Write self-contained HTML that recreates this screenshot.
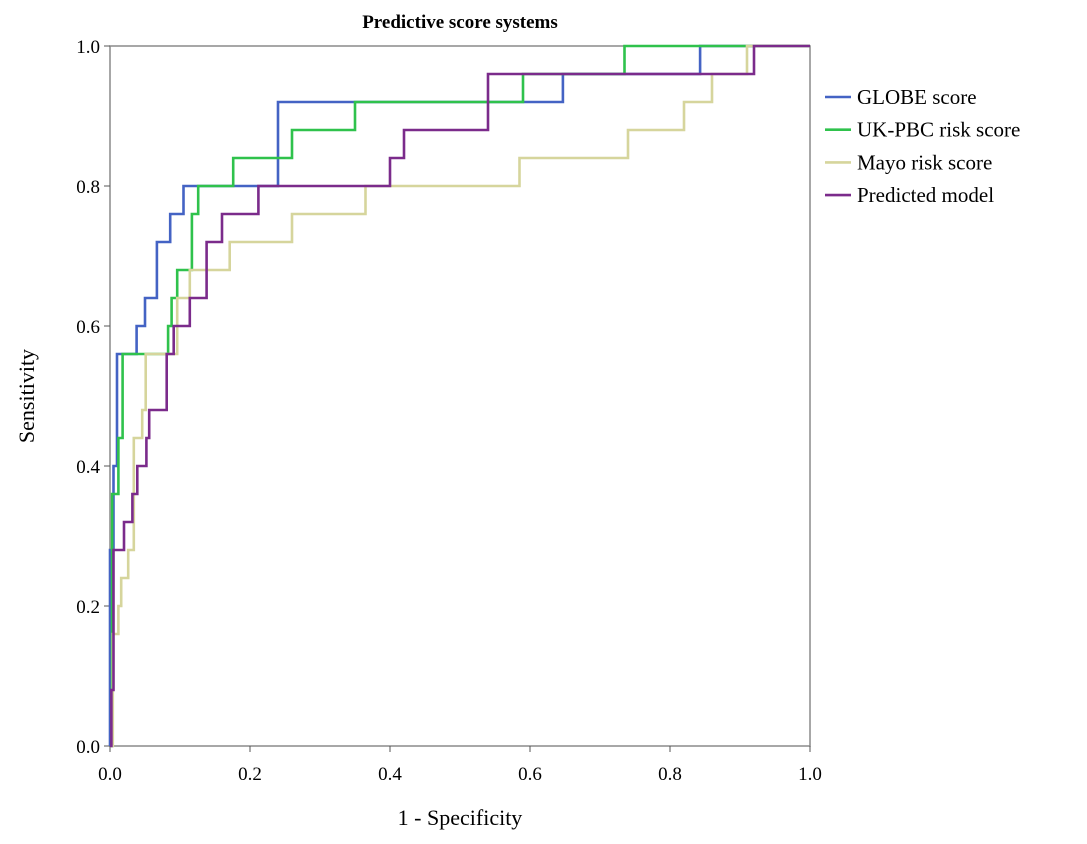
<!DOCTYPE html>
<html><head><meta charset="utf-8"><style>
body{margin:0;background:#fff;}
svg{display:block;font-family:"Liberation Serif",serif;}
</style></head><body>
<svg id="chart" width="1087" height="844" viewBox="0 0 1087 844">
<text x="460" y="28" text-anchor="middle" font-size="19" font-weight="bold">Predictive score systems</text>
<rect x="110" y="46" width="700" height="700" fill="none" stroke="#8a8a8a" stroke-width="1.5"/>
<g id="ticks"></g>
<g id="series"></g>
<text x="460" y="825" text-anchor="middle" font-size="22">1 - Specificity</text>
<text transform="translate(34,396) rotate(-90)" text-anchor="middle" font-size="22">Sensitivity</text>
<g id="legend"></g>
</svg>
<script>
const tickVals=[0,0.2,0.4,0.6,0.8,1.0];
const tickLabels=["0.0","0.2","0.4","0.6","0.8","1.0"];
const seriesNames=["GLOBE score","UK-PBC risk score","Mayo risk score","Predicted model"];
const seriesColors=["#4463c4","#2fc24c","#d6d59c","#7b2b8b"];
const globeFpr=[0,0,0.005,0.01,0.021,0.038,0.05,0.067,0.086,0.105,0.24,0.647,0.843,1];
const globeTpr=[0,0.28,0.4,0.56,0.56,0.6,0.64,0.72,0.76,0.8,0.92,0.96,1,1];
const ukFpr=[0,0.003,0.012,0.018,0.083,0.088,0.096,0.117,0.126,0.176,0.26,0.35,0.59,0.735,1];
const ukTpr=[0,0.36,0.44,0.56,0.6,0.64,0.68,0.76,0.8,0.84,0.88,0.92,0.96,1,1];
const mayoFpr=[0,0.004,0.012,0.016,0.026,0.034,0.046,0.051,0.096,0.114,0.171,0.26,0.365,0.585,0.74,0.82,0.86,0.91,1];
const mayoTpr=[0,0.16,0.2,0.24,0.28,0.44,0.48,0.56,0.64,0.68,0.72,0.76,0.8,0.84,0.88,0.92,0.96,1,1];
const predFpr=[0,0.002,0.005,0.02,0.032,0.039,0.052,0.056,0.081,0.091,0.114,0.138,0.16,0.212,0.4,0.42,0.54,0.92,1];
const predTpr=[0,0.08,0.28,0.32,0.36,0.4,0.44,0.48,0.56,0.6,0.64,0.72,0.76,0.8,0.84,0.88,0.96,1,1];
const allFpr=[globeFpr,ukFpr,mayoFpr,predFpr];
const allTpr=[globeTpr,ukTpr,mayoTpr,predTpr];
const NS="http://www.w3.org/2000/svg";
const X=v=>110+700*v, Y=v=>746-700*v;
const ticks=document.getElementById('ticks');
tickVals.forEach((v,i)=>{
  let l=document.createElementNS(NS,'line');
  l.setAttribute('x1',104);l.setAttribute('x2',110);l.setAttribute('y1',Y(v));l.setAttribute('y2',Y(v));l.setAttribute('stroke','#555');
  
  
  ticks.appendChild(l);
  let t=document.createElementNS(NS,'text');
  t.setAttribute('x',100);t.setAttribute('y',Y(v)+7);t.setAttribute('text-anchor','end');t.setAttribute('font-size','19');t.textContent=tickLabels[i];
  
  
  ticks.appendChild(t);
  let l2=document.createElementNS(NS,'line');
  l2.setAttribute('x1',X(v));l2.setAttribute('x2',X(v));l2.setAttribute('y1',746);l2.setAttribute('y2',752);l2.setAttribute('stroke','#555');
  
  
  ticks.appendChild(l2);
  let t2=document.createElementNS(NS,'text');
  t2.setAttribute('x',X(v));t2.setAttribute('y',780);t2.setAttribute('text-anchor','middle');t2.setAttribute('font-size','19');t2.textContent=tickLabels[i];
  
  
  ticks.appendChild(t2);
});
const sg=document.getElementById('series');
const lg=document.getElementById('legend');
seriesNames.forEach((n,s)=>{
  const fx=allFpr[s], ty=allTpr[s];
  let d='M'+X(fx[0])+' '+Y(ty[0]);
  for(let i=1;i<fx.length;i++){d+=' H'+X(fx[i])+' V'+Y(ty[i]);}
  let p=document.createElementNS(NS,'path');
  p.setAttribute('d',d);p.setAttribute('fill','none');p.setAttribute('stroke',seriesColors[s]);p.setAttribute('stroke-width','2.6');
  
  
  sg.appendChild(p);
  const ly=97+s*32.7;
  let l=document.createElementNS(NS,'line');
  l.setAttribute('x1',825);l.setAttribute('x2',851);l.setAttribute('y1',ly);l.setAttribute('y2',ly);l.setAttribute('stroke',seriesColors[s]);l.setAttribute('stroke-width','2.6');
  
  
  lg.appendChild(l);
  let t=document.createElementNS(NS,'text');
  t.setAttribute('x',857);t.setAttribute('y',ly+7);t.setAttribute('font-size','21');t.textContent=n;
  
  
  lg.appendChild(t);
});
</script>
</body></html>
